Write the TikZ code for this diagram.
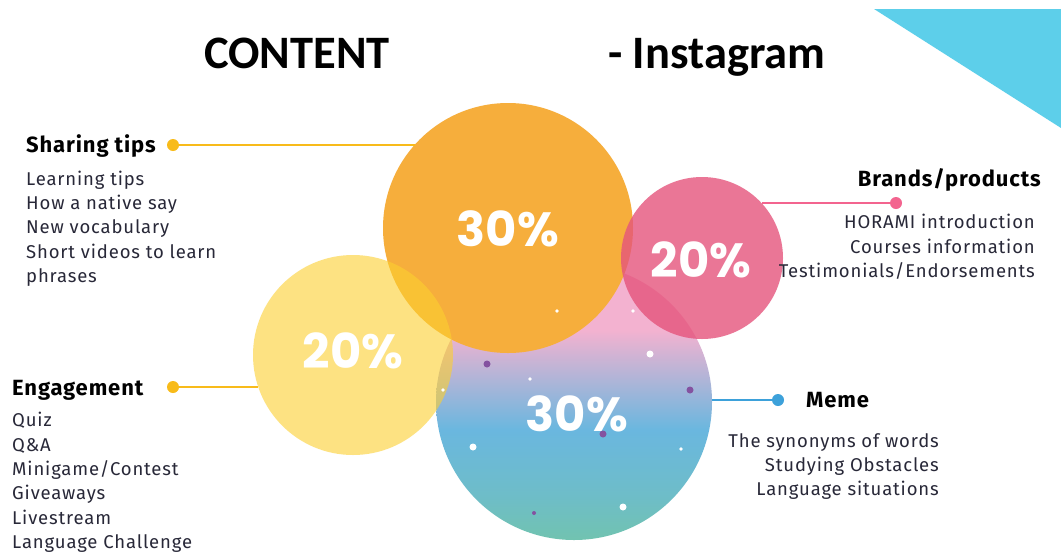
\documentclass[tikz,border=0pt]{standalone}
\usepackage{fontspec}
\setmainfont{Fira Sans}
\newfontfamily\bodyfont[LetterSpace=4.6]{Fira Sans}
\newfontfamily\headfont[LetterSpace=4]{Fira Sans}
\newfontfamily\titlefont{Carlito}
\newfontfamily\pctfont{Poppins}
\usetikzlibrary{positioning}

\definecolor{tipsorange}{RGB}{246,174,60}
\definecolor{engyellow}{RGB}{252,208,48}
\definecolor{brandpink}{RGB}{229,84,124}
\definecolor{memepink}{RGB}{243,178,208}
\definecolor{memeblue}{RGB}{106,183,223}
\definecolor{memeteal}{RGB}{113,195,176}
\definecolor{memeteal2}{RGB}{110,189,200}
\definecolor{tipsline}{RGB}{248,187,26}
\definecolor{brandline}{RGB}{243,100,143}
\definecolor{memeline}{RGB}{61,161,218}
\definecolor{corner}{RGB}{93,207,234}
\definecolor{bodytext}{RGB}{40,40,56}
\definecolor{speck}{RGB}{132,82,160}

\pgfdeclareverticalshading{memeshade}{100bp}{color(0bp)=(memeteal); color(25bp)=(memeteal);
  color(33bp)=(memeteal2); color(45bp)=(memeblue); color(63bp)=(memepink); color(100bp)=(memepink)}

\tikzset{
  bubble/.style={circle, inner sep=0pt, draw=none},
  pct/.style={text=white, inner sep=0pt, font=\pctfont\bfseries\fontsize{48}{48}\selectfont},
  legdot/.style={circle, inner sep=0pt, minimum size=12pt},
  heading/.style={inner sep=0pt, text=black, font=\headfont\fontsize{22}{26}\selectfont\bfseries},
  itemlist/.style={inner sep=0pt, text=bodytext, font=\bodyfont\fontsize{18.5}{24.4}\selectfont},
  leg/.style={line width=2.6pt}
}

\begin{document}
\begin{tikzpicture}[x=1pt,y=-1pt]
      % Page frame.
      \useasboundingbox (0,0) rectangle (1061,558);
      \fill[white] (0,0) rectangle (1061,558);
      \fill[corner] (874,9) -- (1061,9) -- (1061,128) -- cycle;

      % Title.
      \node[anchor=base west, inner sep=0pt, font=\titlefont\bfseries\fontsize{46.5}{46.5}\selectfont] (title) at (204,68.5) {CONTENT};
      \node[anchor=base west, inner sep=0pt, font=\titlefont\bfseries\fontsize{46.5}{46.5}\selectfont] (subtitle) at (608,68.5) {- Instagram};

      % Bubbles, back to front.
      \node[bubble, shade, shading=memeshade, minimum size=276pt] (meme) at (574,402) {};
      \node[bubble, fill=tipsorange, minimum size=250pt] (tips) at (508,228) {};
      \node[bubble, fill=engyellow, fill opacity=0.6, minimum size=200pt] (engage) at (353,355) {};
      \node[bubble, fill=brandpink, fill opacity=0.8, minimum size=162pt] (brands) at (702,258) {};

      % Percent labels.
      \node[pct] (tipspct) at (508,228.5) {30\%};
      \node[pct] (engagepct) at (353,351) {20\%};
      \node[pct] (brandspct) at (701,260) {20\%};
      \node[pct] (memepct) at (577,414) {30\%};

      % Specks on the bubbles.
      \fill[white] (557,311) circle (1.8);
      \fill[white] (633,311) circle (1.8);
      \fill[white] (650,354) circle (3.5);
      \fill[white] (530,379) circle (1.8);
      \fill[white] (443,390) circle (1.8);
      \fill[white] (473,447) circle (3.5);
      \fill[white] (681,449) circle (1.8);
      \fill[white] (623,507) circle (3.5);
      \fill[speck] (487,364) circle (3.5);
      \fill[speck] (690,390) circle (3.5);
      \fill[speck] (603,434) circle (3.5);
      \fill[speck] (534,513) circle (2);

      % Leader dots and lines.
      \node[legdot, fill=tipsline] (tipsdot) at (173,145) {};
      \draw[leg, tipsline] (tipsdot) -- (tipsdot -| tips.138.4);
      \node[legdot, fill=tipsline] (engagedot) at (173,387) {};
      \draw[leg, tipsline] (engagedot) -- (engagedot -| engage.198.7);
      \node[legdot, fill=brandline] (brandsdot) at (896,203) {};
      \draw[leg, brandline] (brandsdot) -- (brandsdot -| brands.42.8);
      \node[legdot, fill=memeline] (memedot) at (778,400) {};
      \draw[leg, memeline] (memedot) -- (memedot -| meme.1);

      % Sharing tips.
      \node[heading, anchor=base west] (tipshead) at (26,152.5) {Sharing tips};
      \node[itemlist, anchor=north west, align=left] (tipslist) at (26,170.5) {Learning tips\\How a native say\\New vocabulary\\Short videos to learn\\phrases};

      % Engagement.
      \node[heading, anchor=base west] (engagehead) at (12,395.5) {Engagement};
      \node[itemlist, anchor=north west, align=left] (engagelist) at (12,412) {Quiz\\Q\&A\\Minigame/Contest\\Giveaways\\Livestream\\Language Challenge};

      % Brands/products.
      \node[heading, anchor=base east] (brandshead) at (1041,186.5) {Brands/products};
      \node[itemlist, anchor=north east, align=right] (brandslist) at (1035,214) {HORAMI introduction\\Courses information\\Testimonials/Endorsements};

      % Meme.
      \node[heading, anchor=base west] (memehead) at (806,407.5) {Meme};
      \node[itemlist, anchor=north east, align=right] (memelist) at (939,433) {The synonyms of words\\Studying Obstacles\\Language situations};

\end{tikzpicture}
\end{document}
